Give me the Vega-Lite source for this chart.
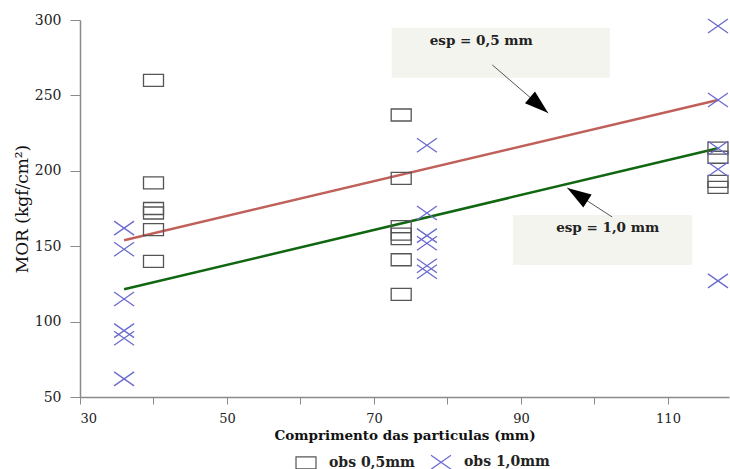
{
  "$schema": "https://vega.github.io/schema/vega-lite/v6.json",
  "autosize": {"type": "none"},
  "width": 649,
  "height": 377,
  "padding": {"left": 80, "top": 20, "right": 1, "bottom": 72},
  "background": "white",
  "config": {
    "view": {"stroke": null},
    "font": "DejaVu Serif",
    "axis": {
      "grid": false,
      "domainColor": "#8a8a8a",
      "domainWidth": 1.5,
      "tickColor": "#8a8a8a",
      "tickWidth": 1,
      "labelFont": "DejaVu Serif",
      "labelFontSize": 14,
      "labelColor": "#222",
      "titleFont": "DejaVu Serif",
      "titleColor": "#111"
    },
    "legend": {
      "labelFont": "DejaVu Serif",
      "labelFontSize": 14,
      "labelFontWeight": "bold",
      "labelColor": "#222"
    }
  },
  "datasets": {
    "obs": [
      {"comp": 40, "mor": 260, "serie": "obs 0,5mm"},
      {"comp": 40, "mor": 192, "serie": "obs 0,5mm"},
      {"comp": 40, "mor": 175, "serie": "obs 0,5mm"},
      {"comp": 40, "mor": 172, "serie": "obs 0,5mm"},
      {"comp": 40, "mor": 161, "serie": "obs 0,5mm"},
      {"comp": 40, "mor": 140, "serie": "obs 0,5mm"},
      {"comp": 73.7, "mor": 237, "serie": "obs 0,5mm"},
      {"comp": 73.7, "mor": 195, "serie": "obs 0,5mm"},
      {"comp": 73.7, "mor": 163, "serie": "obs 0,5mm"},
      {"comp": 73.7, "mor": 158, "serie": "obs 0,5mm"},
      {"comp": 73.7, "mor": 155, "serie": "obs 0,5mm"},
      {"comp": 73.7, "mor": 141, "serie": "obs 0,5mm"},
      {"comp": 73.7, "mor": 118, "serie": "obs 0,5mm"},
      {"comp": 116.8, "mor": 215, "serie": "obs 0,5mm"},
      {"comp": 116.8, "mor": 209, "serie": "obs 0,5mm"},
      {"comp": 116.8, "mor": 193, "serie": "obs 0,5mm"},
      {"comp": 116.8, "mor": 189, "serie": "obs 0,5mm"},
      {"comp": 36, "mor": 162, "serie": "obs 1,0mm"},
      {"comp": 36, "mor": 148, "serie": "obs 1,0mm"},
      {"comp": 36, "mor": 115, "serie": "obs 1,0mm"},
      {"comp": 36, "mor": 94, "serie": "obs 1,0mm"},
      {"comp": 36, "mor": 89, "serie": "obs 1,0mm"},
      {"comp": 36, "mor": 62, "serie": "obs 1,0mm"},
      {"comp": 77.2, "mor": 217, "serie": "obs 1,0mm"},
      {"comp": 77.2, "mor": 172, "serie": "obs 1,0mm"},
      {"comp": 77.2, "mor": 157, "serie": "obs 1,0mm"},
      {"comp": 77.2, "mor": 152, "serie": "obs 1,0mm"},
      {"comp": 77.2, "mor": 137, "serie": "obs 1,0mm"},
      {"comp": 77.2, "mor": 133, "serie": "obs 1,0mm"},
      {"comp": 116.8, "mor": 296, "serie": "obs 1,0mm"},
      {"comp": 116.8, "mor": 247, "serie": "obs 1,0mm"},
      {"comp": 116.8, "mor": 215, "serie": "obs 1,0mm"},
      {"comp": 116.8, "mor": 201, "serie": "obs 1,0mm"},
      {"comp": 116.8, "mor": 127, "serie": "obs 1,0mm"}
    ],
    "fits": [
      {"comp": 36, "mor": 154, "fit": "esp 0,5"},
      {"comp": 116.8, "mor": 247, "fit": "esp 0,5"},
      {"comp": 36, "mor": 121.4, "fit": "esp 1,0"},
      {"comp": 116.8, "mor": 215, "fit": "esp 1,0"}
    ],
    "boxes": [
      {"x1": 72.4, "x2": 102.1, "y1": 294.9, "y2": 261.7, "label": "esp = 0,5 mm", "tx": 84.6, "ty": 286, "ax": 86.1, "ay": 270.2, "hx": 93.7, "hy": 238.3, "ang": 130.6},
      {"x1": 88.9, "x2": 113.3, "y1": 170.7, "y2": 137.5, "label": "esp = 1,0 mm", "tx": 101.8, "ty": 162, "ax": 102.4, "ay": 169.4, "hx": 96.3, "hy": 188.6, "ang": 302.8}
    ]
  },
  "layer": [
    {
      "data": {"name": "boxes"},
      "mark": {"type": "rect", "color": "#f4f4ee"},
      "encoding": {
        "x": {"field": "x1", "type": "quantitative", "scale": {"domain": [30, 118.3], "nice": false, "zero": false}},
        "x2": {"field": "x2"},
        "y": {"field": "y1", "type": "quantitative", "scale": {"domain": [50, 300], "nice": false, "zero": false}},
        "y2": {"field": "y2"}
      }
    },
    {
      "data": {"name": "boxes"},
      "mark": {"type": "text", "font": "DejaVu Serif", "fontSize": 13.5, "fontWeight": "bold", "color": "#222"},
      "encoding": {
        "x": {"field": "tx", "type": "quantitative"},
        "y": {"field": "ty", "type": "quantitative"},
        "text": {"field": "label"}
      }
    },
    {
      "data": {"name": "boxes"},
      "mark": {"type": "rule", "color": "#555", "strokeWidth": 1},
      "encoding": {
        "x": {"field": "ax", "type": "quantitative"},
        "y": {"field": "ay", "type": "quantitative"},
        "x2": {"field": "hx"},
        "y2": {"field": "hy"}
      }
    },
    {
      "data": {"name": "boxes"},
      "mark": {"type": "point", "filled": true, "color": "black", "opacity": 1, "shape": "M0,0L0.32,1L-0.32,1Z", "size": 2304},
      "encoding": {
        "x": {"field": "hx", "type": "quantitative"},
        "y": {"field": "hy", "type": "quantitative"},
        "angle": {"field": "ang", "type": "quantitative", "scale": null}
      }
    },
    {
      "mark": {"type": "rule", "color": "#8a8a8a", "strokeWidth": 1.5},
      "encoding": {"y": {"datum": 300}}
    },
    {
      "data": {"name": "fits"},
      "mark": {"type": "line", "strokeWidth": 2.5},
      "encoding": {
        "x": {"field": "comp", "type": "quantitative"},
        "y": {"field": "mor", "type": "quantitative"},
        "stroke": {"field": "fit", "type": "nominal", "scale": {"domain": ["esp 0,5", "esp 1,0"], "range": ["#c0605a", "#116611"]}, "legend": null}
      }
    },
    {
      "data": {"name": "obs"},
      "mark": {"type": "point", "filled": false, "strokeWidth": 1.3, "opacity": 1, "size": 400},
      "encoding": {
        "x": {
          "field": "comp", "type": "quantitative",
          "title": "Comprimento das particulas (mm)",
          "axis": {
            "values": [30, 40, 50, 60, 70, 80, 90, 100, 110],
            "labelExpr": "datum.value % 20 == 10 ? datum.label : ''",
            "labelFontSize": 13,
            "tickSize": 7, "labelPadding": 8,
            "titleFontSize": 13.5, "titleFontWeight": "bold", "titlePadding": 3
          }
        },
        "y": {
          "field": "mor", "type": "quantitative",
          "title": "MOR (kgf/cm²)",
          "axis": {
            "values": [50, 75, 100, 125, 150, 175, 200, 225, 250, 275, 300],
            "labelExpr": "datum.value % 50 == 0 ? datum.label : ''",
            "tickSize": 10, "labelPadding": 9,
            "titleFontSize": 17, "titleFontWeight": "normal", "titlePadding": 3
          }
        },
        "shape": {
          "field": "serie", "type": "nominal",
          "scale": {"domain": ["obs 0,5mm", "obs 1,0mm"], "range": ["M-1,-0.6H1V0.6H-1Z", "M-1,-0.7L1,0.7M-1,0.7L1,-0.7"]},
          "legend": {"title": null, "orient": "none", "direction": "horizontal", "legendX": 215, "legendY": 431, "symbolSize": 400, "symbolStrokeWidth": 1.2, "labelOffset": 12, "columnPadding": 13, "symbolFillColor": "transparent"}
        },
        "color": {
          "field": "serie", "type": "nominal",
          "scale": {"domain": ["obs 0,5mm", "obs 1,0mm"], "range": ["#555555", "#6a6ad0"]},
          "legend": {"title": null, "orient": "none", "direction": "horizontal", "legendX": 215, "legendY": 431, "symbolSize": 400, "symbolStrokeWidth": 1.2, "labelOffset": 12, "columnPadding": 13, "symbolFillColor": "transparent"}
        }
      }
    }
  ]
}
